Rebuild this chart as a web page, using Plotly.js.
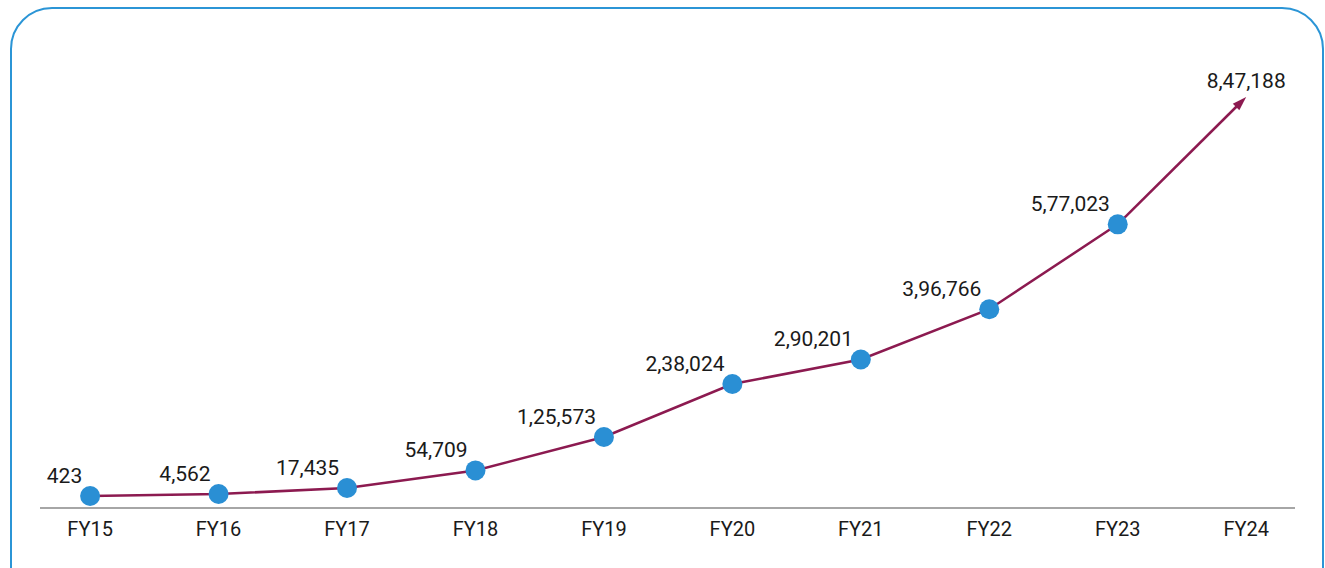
<!DOCTYPE html>
<html>
<head>
<meta charset="utf-8">
<script src="https://cdn.plot.ly/plotly-3.0.1.min.js"></script>
<style>
  html, body { margin: 0; padding: 0; width: 1325px; height: 568px; overflow: hidden; background: #ffffff; }
  #frame { position: absolute; left: 10px; top: 7px; width: 1314px; height: 640px; box-sizing: border-box;
           border: 2px solid #2b95d6; border-radius: 42px; }
  #chart { position: absolute; left: 0; top: 0; width: 1325px; height: 568px; }
</style>
</head>
<body>
<div id="frame"></div>
<div id="chart"></div>
<script>
const categories = ["FY15", "FY16", "FY17", "FY18", "FY19", "FY20", "FY21", "FY22", "FY23", "FY24"];
const values = [423, 4562, 17435, 54709, 125573, 238024, 290201, 396766, 577023, 847188];
const labels = ["423", "4,562", "17,435", "54,709", "1,25,573", "2,38,024", "2,90,201", "3,96,766", "5,77,023", "8,47,188"];

const last = categories.length - 1;
const fontFam = "Roboto, sans-serif";
const maroon = "#8c1a50";
const blue = "#2a8fd4";

// final segment with arrowhead (FY23 -> FY24)
const arrowTrace = {
  type: "scatter",
  mode: "lines+markers",
  x: categories.slice(last - 1),
  y: values.slice(last - 1),
  line: { color: maroon, width: 2.5 },
  marker: { symbol: "arrow", size: [0, 15], color: maroon, opacity: 1, angleref: "previous", line: { width: 0 } },
  cliponaxis: false,
  hoverinfo: "skip"
};

// main series FY15..FY23
const mainTrace = {
  type: "scatter",
  mode: "lines+markers",
  x: categories.slice(0, last),
  y: values.slice(0, last),
  line: { color: maroon, width: 2.5 },
  marker: { symbol: "circle", size: 20, color: blue, opacity: 1, line: { width: 0 } },
  cliponaxis: false,
  hoverinfo: "skip"
};

// value labels
const labelTrace = {
  type: "scatter",
  mode: "markers+text",
  x: categories,
  y: values,
  text: labels,
  textposition: categories.map((c, i) => i === last ? "top center" : "top left"),
  textfont: { family: fontFam, size: 21, color: "#1a1a1a" },
  marker: { size: categories.map((c, i) => i === last ? 4 : 11), color: "rgba(0,0,0,0)", opacity: 1, line: { width: 0 } },
  cliponaxis: false,
  hoverinfo: "skip"
};

const layout = {
  width: 1325,
  height: 568,
  margin: { l: 40, r: 30, t: 40, b: 61 },
  paper_bgcolor: "rgba(0,0,0,0)",
  plot_bgcolor: "rgba(0,0,0,0)",
  showlegend: false,
  xaxis: {
    type: "category",
    categoryarray: categories,
    categoryorder: "array",
    range: [-0.39, 9.38],
    showgrid: false,
    zeroline: false,
    showline: true,
    linecolor: "#a6a6a6",
    linewidth: 2,
    ticks: "",
    ticklabelstandoff: 3,
    tickfont: { family: fontFam, size: 20, color: "#1a1a1a" },
    fixedrange: true
  },
  yaxis: {
    range: [-22920, 968170],
    visible: false,
    showgrid: false,
    zeroline: false,
    fixedrange: true
  }
};

Plotly.newPlot("chart", [arrowTrace, mainTrace, labelTrace], layout, { staticPlot: true, displayModeBar: false });
</script>
</body>
</html>
